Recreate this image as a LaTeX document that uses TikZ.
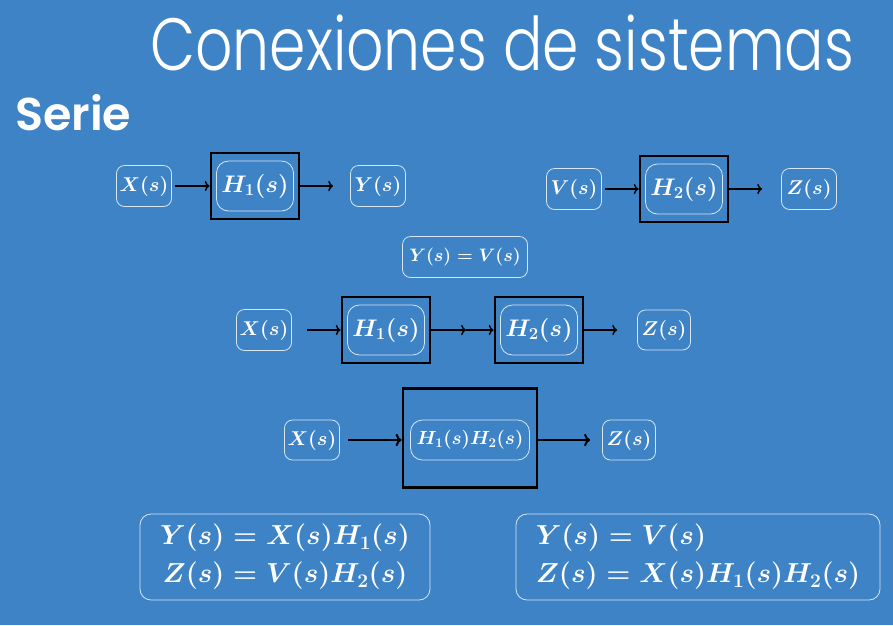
\RequirePackage{fix-cm}
\documentclass[tikz,border=0pt]{standalone}
\usepackage{amsmath}
\usepackage{fontspec}
\setmainfont{Poppins}
\newfontfamily\titlefont{Poppins Light}
\newfontfamily\headfont{Poppins SemiBold}
\usetikzlibrary{positioning,arrows.meta,calc}
\definecolor{slide}{RGB}{62,131,198}
\definecolor{rim}{RGB}{215,230,245}
\tikzset{
  sig/.style={draw=rim, rounded corners=8pt, line width=0.8pt, text=white,
    minimum width=55pt, minimum height=41pt, inner sep=2pt,
    font=\boldmath\fontsize{20}{22}\selectfont},
  tf/.style={sig, minimum width=77pt, minimum height=50pt, rounded corners=12pt,
    font=\boldmath\fontsize{24}{27}\selectfont},
  blk/.style={draw=black, line width=2.8pt, minimum width=88pt, minimum height=66pt},
  flow/.style={-To, black, line width=1.5pt},
  eqbox/.style={draw=rim, rounded corners=11pt, line width=0.8pt, text=white,
    minimum height=86pt, inner sep=0pt, font=\boldmath\fontsize{27.5}{38}\selectfont}
}

\begin{document}
\begin{tikzpicture}[x=1pt,y=-1pt]
    % slide background
    \fill[slide] (0,0) rectangle (893,625);
    \useasboundingbox (0,0) rectangle (893,625);
    \node[anchor=base west, text=white, inner sep=0pt, xscale=0.79,
        font=\titlefont\fontsize{74}{74}\selectfont]
        (title) at (150,70) {Conexiones de sistemas};
    \node[anchor=base west, text=white, inner sep=0pt, font=\headfont\fontsize{46}{46}\selectfont]
        (serie) at (15,130) {Serie};

    % first system
    \node[sig] (x1) at (144,186) {$X(s)$};
    \node[blk] (b1) at (255,186) {};
    \node[tf]  (h1) at (255,186) {$H_1(s)$};
    \node[sig] (y1) at (378,186) {$Y(s)$};
    \draw[flow,shorten <=3pt] (x1) -- (b1);
    \draw[flow,shorten >=17pt] (b1) -- (y1);

    % second system
    \node[sig] (v2) at (574,189) {$V(s)$};
    \node[blk] (b2) at (684,189) {};
    \node[tf]  (h2) at (684,189) {$H_2(s)$};
    \node[sig] (z2) at (809,189) {$Z(s)$};
    \draw[flow,shorten <=3pt] (v2) -- (b2);
    \draw[flow,shorten >=19pt] (b2) -- (z2);

    \node[sig, minimum width=125pt, font=\boldmath\fontsize{18}{21}\selectfont] (link) at (465,257) {$Y(s)=V(s)$};

    % cascade
    \node[sig] (x3) at (264,330) {$X(s)$};
    \node[blk] (b3) at (386,330) {};
    \node[tf]  (h3) at (386,330) {$H_1(s)$};
    \node[blk] (b4) at (539,330) {};
    \node[tf]  (h4) at (539,330) {$H_2(s)$};
    \node[sig, minimum width=53pt, minimum height=40pt] (z3) at (664,330) {$Z(s)$};
    \coordinate (mid) at (466,330);
    \draw[flow,shorten <=15pt] (x3) -- (b3);
    \draw[flow] (b3) -- (mid);
    \draw[flow] (mid) -- (b4);
    \draw[flow,shorten >=20pt] (b4) -- (z3);

    % equivalent system
    \node[sig, minimum height=40pt] (x5) at (312,440) {$X(s)$};
    \node[blk, minimum width=134pt, minimum height=99pt] (b5) at (470,438) {};
    \node[sig, minimum width=119pt, minimum height=40pt, rounded corners=12pt,
        font=\boldmath\fontsize{19}{21}\selectfont] (h5) at (470,440) {$H_1(s)H_2(s)$};
    \node[sig, minimum width=53pt, minimum height=40pt] (z5) at (629,440) {$Z(s)$};
    \draw[flow,line width=2pt,shorten <=8pt] (x5.east) -- (x5.east -| b5.west);
    \draw[flow,line width=2pt,shorten >=12pt] (z5.west -| b5.east) -- (z5.west);

    % relations
    \node[eqbox, minimum width=290pt, align=center] (eqa) at (285,557)
        {$Y(s)=X(s)H_1(s)$\\$Z(s)=V(s)H_2(s)$};
    \node[eqbox, minimum width=364pt, align=left] (eqb) at (698,557)
        {$Y(s)=V(s)$\\$Z(s)=X(s)H_1(s)H_2(s)$};
\end{tikzpicture}
\end{document}
